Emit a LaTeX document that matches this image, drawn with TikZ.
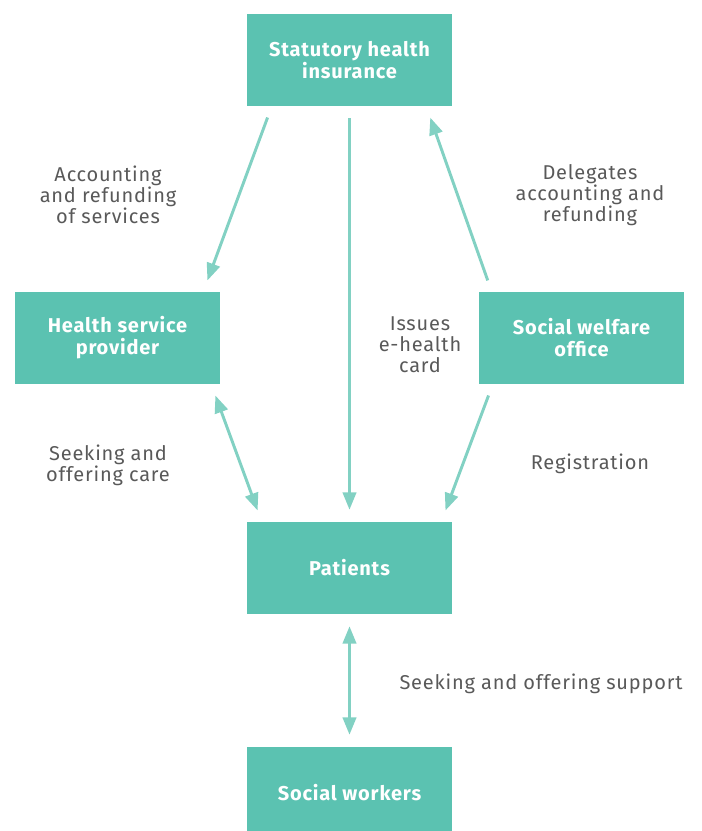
\documentclass[tikz,border=0pt]{standalone}
\usepackage{fontspec}
\setmainfont{Fira Sans}[LetterSpace=4]
\usetikzlibrary{arrows.meta,calc}
\definecolor{boxgreen}{HTML}{5BC2B1}
\definecolor{arrowgreen}{HTML}{82D1C3}
\definecolor{labelgray}{HTML}{595959}
\tikzset{
  box/.style={fill=boxgreen, text=white, minimum width=205*0.75pt, minimum height=92*0.75pt,
    align=center, font=\fontsize{15}{16.5}\selectfont\bfseries, inner sep=0pt},
  arr/.style={draw=arrowgreen, line width=2.2pt, -{Triangle[length=13pt,width=10pt]},
    shorten >=9pt, shorten <=9pt},
  darr/.style={arr, {Triangle[length=13pt,width=10pt]}-{Triangle[length=13pt,width=10pt]}},
  lbl/.style={text=labelgray, align=center, font=\fontsize{15}{15.75}\selectfont}
}
\begin{document}
\begin{tikzpicture}[x=0.75pt,y=-0.75pt]
      % Marco
      \useasboundingbox (0,0) rectangle (701,831);

      % Cajas
      \node[box] (shi) at (349.5,60) {Statutory health\\insurance};
      \node[box] (hsp) at (117.5,338) {Health service\\provider};
      \node[box] (swo) at (581.5,338) {Social welfare\\office};
      \node[box] (pat) at (349.5,568) {Patients};
      \node[box] (sw) at (349.5,793) {Social workers};

      % Flechas
      \draw[arr] ($(shi.south west)+(25,0)$) -- ($(hsp.north east)+(-17,0)$);
      \draw[arr] (shi.south) -- (pat.north);
      \draw[arr] ($(swo.north west)+(13,0)$) -- ($(shi.south east)+(-26,0)$);
      \draw[darr] ($(hsp.south east)+(-9,0)$) -- ($(pat.north west)+(15,0)$);
      \draw[arr] ($(swo.south west)+(14,0)$) -- ($(pat.north east)+(-11,0)$);
      \draw[darr] (pat.south) -- (sw.north);

      % Etiquetas
      \node[lbl] (lacc) at (108,195) {Accounting\\and refunding\\of services};
      \node[lbl] (ldel) at (590,195) {Delegates\\accounting and\\refunding};
      \node[lbl] (liss) at (420,345) {Issues\\e-health\\card};
      \node[lbl] (lcare) at (108,465) {Seeking and\\offering care};
      \node[lbl] (lreg) at (590,464) {Registration};
      \node[lbl] (lsup) at (541,684) {Seeking and offering support};
    \end{tikzpicture}
\end{document}
